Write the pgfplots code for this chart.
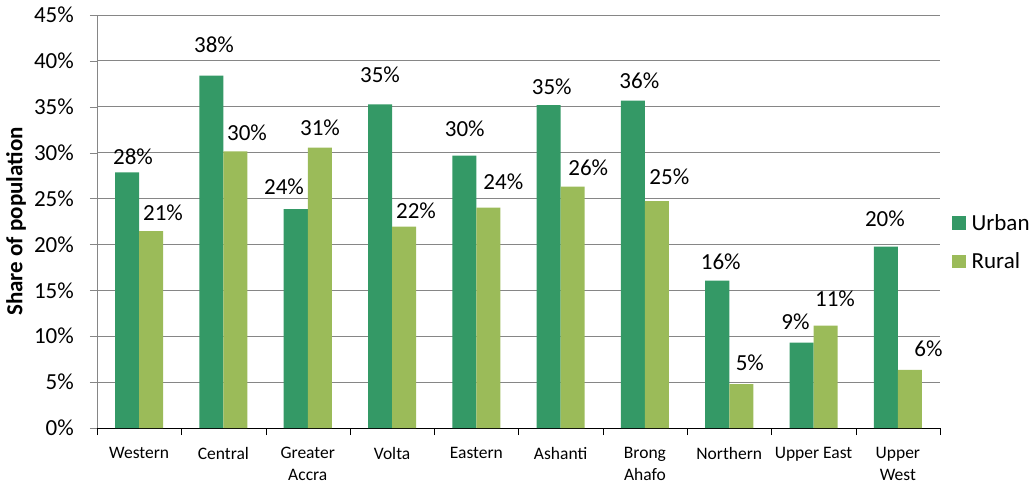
\documentclass[border=0pt]{standalone}
\usepackage{pgfplots}
\pgfplotsset{compat=1.18}
\usepackage{fontspec}
\setmainfont{Carlito}
\definecolor{urb}{RGB}{52,153,102}
\definecolor{rur}{RGB}{155,187,89}
\definecolor{grd}{RGB}{134,134,134}
\newcommand{\bigf}{\fontsize{23}{27}\selectfont}
\begin{document}
\begin{tikzpicture}
\useasboundingbox (-97pt,-57pt) rectangle (937pt,428pt);
\begin{axis}[
  at={(0,0)}, anchor=south west,
  scale only axis, width=843pt, height=413pt,
  xmin=-0.5, xmax=9.5, ymin=0, ymax=45,
  axis lines=left, axis line style={-},
  x axis line style={black},
  y axis line style={grd},
  ytick={0,5,...,45},
  yticklabel={\pgfmathprintnumber{\tick}\%},
  /pgf/number format/assume math mode=true,
  yticklabel style={font=\bigf, inner sep=0pt, xshift=-16pt},
  ytick style={grd},
  major tick length=7pt, minor tick length=7pt,
  tick align=outside,
  xtick={0,...,9},
  xticklabels={Western,Central,Greater\\Accra,Volta,Eastern,Ashanti,Brong\\Ahafo,Northern,Upper East,Upper\\West},
  major x tick style={draw=none},
  minor xtick={-0.5,0.5,...,9.5},
  minor x tick style={black},
  xticklabel style={font=\fontsize{17.5}{22}\selectfont, align=center, inner sep=0pt, yshift=-12pt},
  ymajorgrids, grid style={grd, line width=0.8pt},
  ylabel={\bfseries Share of population},
  ylabel style={font=\bigf, at={(rel axis cs:-0.0961,0.5)}, anchor=center, inner sep=0pt},
  legend style={draw=none, fill=none, at={(rel axis cs:1.0107,0.45)}, anchor=west,
    font=\bigf, row sep=21pt, nodes={inner sep=0pt}},
  legend cell align=left,
]
\addplot[ybar, bar width=0.285, bar shift=-0.1425, fill=urb, draw=none,
  legend image code/.code={\fill[urb] (0pt,-6.7pt) rectangle (13.4pt,6.7pt);}]
  coordinates {(0,27.86) (1,38.4) (2,23.86) (3,35.27) (4,29.67) (5,35.19) (6,35.66) (7,16.05) (8,9.29) (9,19.75)};
\addlegendentry{\hspace{6pt}Urban}
\addplot[ybar, bar width=0.285, bar shift=0.1425, fill=rur, draw=none,
  legend image code/.code={\fill[rur] (0pt,-6.7pt) rectangle (13.4pt,6.7pt);}]
  coordinates {(0,21.44) (1,30.15) (2,30.54) (3,21.93) (4,24.0) (5,26.29) (6,24.73) (7,4.79) (8,11.15) (9,6.32)};
\addlegendentry{\hspace{6pt}Rural}
\addplot[draw=none, mark=none, forget plot, point meta=explicit,
  nodes near coords={\pgfmathprintnumber[fixed,precision=0]{\pgfplotspointmeta}\%},
  nodes near coords style={font=\bigf, inner sep=0pt, anchor=south, text=black}]
  coordinates {
  (-0.073,28.66) [28] (0.283,22.55) [21]
  (0.888,40.86) [38] (1.279,31.27) [30]
  (1.718,25.39) [24] (2.145,31.82) [31]
  (2.857,37.59) [35] (3.284,22.74) [22]
  (3.862,31.74) [30] (4.320,25.93) [24]
  (4.894,36.28) [35] (5.328,27.46) [26]
  (5.933,36.94) [36] (6.289,26.48) [25]
  (6.899,17.21) [16] (7.244,6.24) [5]
  (7.786,10.68) [9] (8.254,13.22) [11]
  (8.847,21.90) [20] (9.364,7.70) [6]
  };
\end{axis}
\end{tikzpicture}
\end{document}
